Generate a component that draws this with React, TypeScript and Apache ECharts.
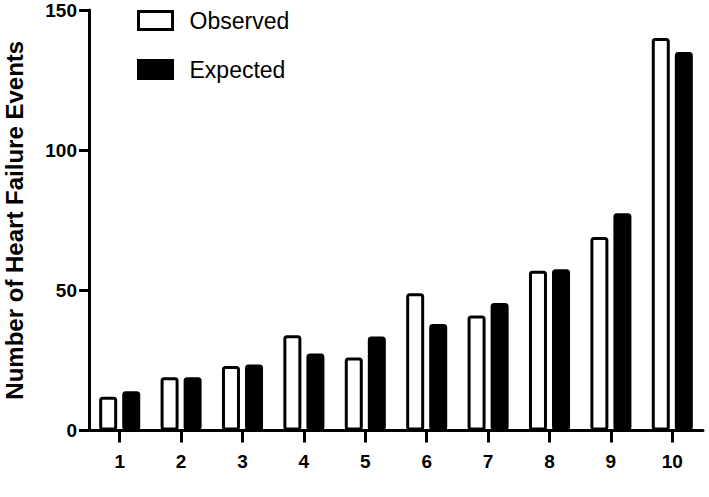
import React, { useEffect, useRef } from "react";
import * as echarts from "echarts";

const categories = ["1", "2", "3", "4", "5", "6", "7", "8", "9", "10"];
const observed = [12, 19, 23, 34, 26, 49, 41, 57, 69, 140];
const expected = [14, 19, 23.5, 27.5, 33.5, 38, 45.5, 57.5, 77.5, 135];
const yTicks = { min: 0, max: 150, interval: 50 };

export default function App() {
  const ref = useRef<HTMLDivElement>(null);
  useEffect(() => {
    if (!ref.current) return;
    const chart = echarts.init(ref.current, null, { renderer: "svg" });
    const font = "'Liberation Sans', Arial, sans-serif";
    chart.setOption({
      animation: false,
      backgroundColor: "#ffffff",
      legend: {
        orient: "vertical",
        left: 137,
        top: 9,
        padding: 0,
        itemWidth: 34,
        itemHeight: 18,
        itemGap: 26,
        textStyle: { fontFamily: font, fontSize: 23, color: "#000", padding: [0, 0, 0, 12] },
        data: [
          { name: "Observed", icon: "rect", itemStyle: { color: "#fff", borderColor: "#000", borderWidth: 3 } },
          { name: "Expected", icon: "rect", itemStyle: { color: "#000", borderColor: "#000", borderWidth: 3 } },
        ],
      },
      grid: { left: 89, top: 10, width: 614, height: 420.5, containLabel: false, outerBoundsMode: "none" },
      xAxis: {
        type: "category",
        data: categories,
        axisLine: { show: true, lineStyle: { color: "#000", width: 3 } },
        axisTick: { show: true, alignWithLabel: true, length: 12, lineStyle: { color: "#000", width: 3 } },
        axisLabel: { fontFamily: font, fontSize: 19, fontWeight: "bold", color: "#000", margin: 21 },
        splitLine: { show: false },
      },
      yAxis: {
        type: "value",
        min: yTicks.min,
        max: yTicks.max,
        interval: yTicks.interval,
        name: "Number of Heart Failure Events",
        nameLocation: "middle",
        nameRotate: 90,
        nameGap: 63,
        nameTextStyle: { fontFamily: font, fontSize: 24, fontWeight: "bold", color: "#000" },
        axisLine: { show: true, lineStyle: { color: "#000", width: 3 } },
        axisTick: { show: true, length: 10, lineStyle: { color: "#000", width: 3 } },
        axisLabel: { fontFamily: font, fontSize: 19, fontWeight: "bold", color: "#000", margin: 12 },
        splitLine: { show: false },
      },
      series: [
        {
          name: "Observed",
          type: "bar",
          data: observed,
          barWidth: 18,
          barGap: "28%",
          itemStyle: { color: "#fff", borderColor: "#000", borderWidth: 3, borderRadius: 2 },
        },
        {
          name: "Expected",
          type: "bar",
          data: expected,
          barWidth: 18,
          barGap: "28%",
          itemStyle: { color: "#000", borderColor: "#000", borderWidth: 3, borderRadius: 2 },
        },
      ],
    });
    return () => chart.dispose();
  }, []);
  return <div ref={ref} style={{ width: 709, height: 497, position: "absolute", left: 0, top: 0 }} />;
}
